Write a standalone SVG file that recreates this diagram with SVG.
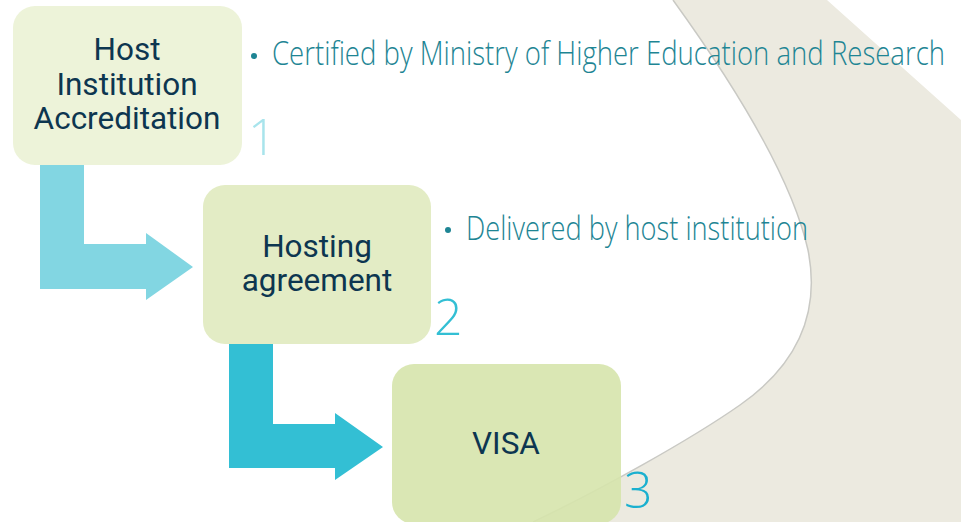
<svg xmlns="http://www.w3.org/2000/svg" width="961" height="522" viewBox="0 0 961 522">
<style>
.node-text{font-family:Roboto,"Liberation Sans",sans-serif;font-size:31.5px;fill:#0D3650;text-anchor:middle}
.bullet{font-family:"Open Sans","Liberation Sans",sans-serif;font-weight:300;font-size:33px;fill:#1E8594}
.num{font-family:"Open Sans","Liberation Sans",sans-serif;font-weight:300;font-size:50px}
</style>
<rect width="961" height="522" fill="#ffffff"/>
<g id="background">
<path d="M673,0 L827,0 L961,120 L961,522 L533,522 C600,490 690,440 740,405 C790,370 822,320 808,250 C790,170 720,65 673,0 Z" fill="#ECEAE0"/>
<path d="M673,0 C720,65 790,170 808,250 C822,320 790,370 740,405 C690,440 600,490 533,522" fill="none" stroke="#C9C9C4" stroke-width="1.5"/>
</g>
<g id="connectors">
<path d="M40,164 L84,164 L84,244 L146,244 L146,233 L193,267 L146,300 L146,289 L40,289 Z" fill="#82D6E2"/>
<path d="M229,344 L273,344 L273,424 L335,424 L335,413 L383,447 L335,480 L335,468 L229,468 Z" fill="#33BFD4"/>
</g>
<g id="node1">
<rect x="13" y="6" width="229" height="159" rx="22" fill="#EDF3D9"/>
<text class="node-text" x="127" y="60">Host</text>
<text class="node-text" x="127" y="95">Institution</text>
<text class="node-text" x="127" y="129">Accreditation</text>
<text class="num" x="248" y="155" fill="#A8E4EC">1</text>
<circle cx="254" cy="56" r="3" fill="#1E8594"/>
<text class="bullet" x="272" y="65" textLength="673" lengthAdjust="spacingAndGlyphs">Certified by Ministry of Higher Education and Research</text>
</g>
<g id="node2">
<rect x="203" y="185" width="228" height="159" rx="22" fill="#E3ECC5"/>
<text class="node-text" x="317" y="257">Hosting</text>
<text class="node-text" x="317" y="291">agreement</text>
<text class="num" x="434" y="335" fill="#33BFD4">2</text>
<circle cx="448" cy="230" r="3" fill="#1E8594"/>
<text class="bullet" x="466" y="240" textLength="342" lengthAdjust="spacingAndGlyphs">Delivered by host institution</text>
</g>
<g id="node3">
<rect x="392" y="364" width="229" height="160" rx="22" fill="#D6E4AC" fill-opacity="0.9"/>
<text class="node-text" x="506" y="454">VISA</text>
<text class="num" x="624" y="508" fill="#1BB0CF">3</text>
</g>
</svg>
